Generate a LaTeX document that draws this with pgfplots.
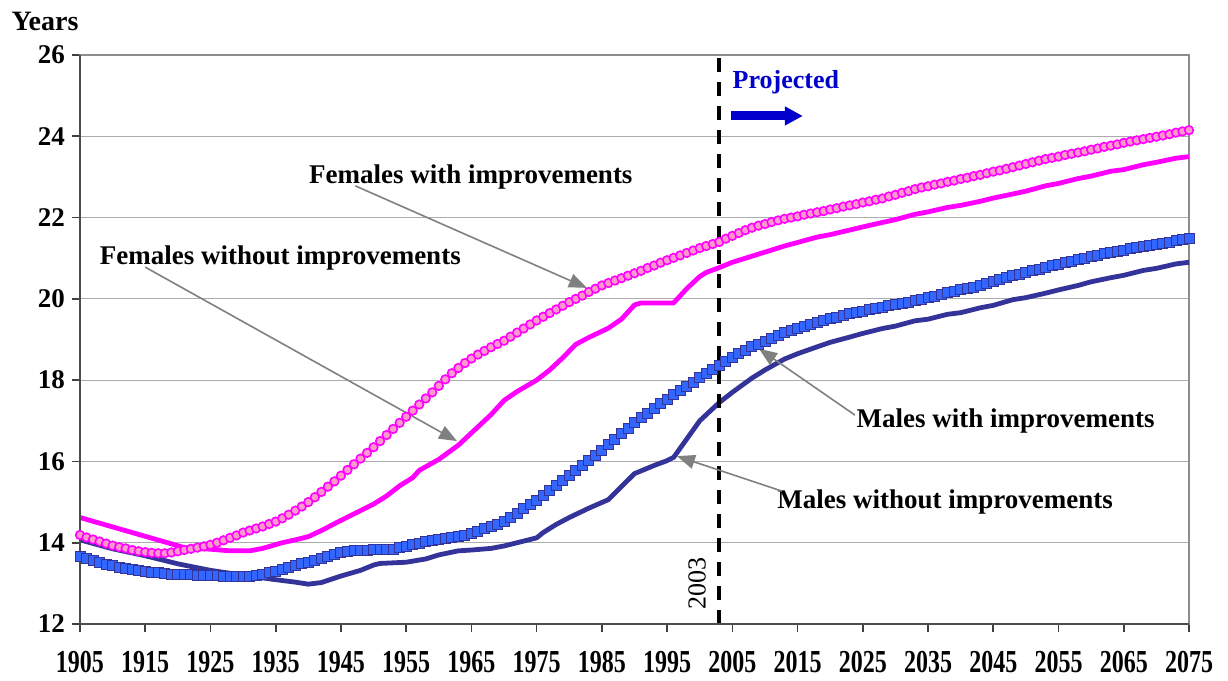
\documentclass[border=0pt]{standalone}
\usepackage{fontspec}
\setmainfont{Liberation Serif}
\usepackage{graphicx}
\usepackage{pgfplots}
\pgfplotsset{compat=1.18}
\usetikzlibrary{arrows.meta}
\definecolor{mag}{HTML}{FF00FF}
\definecolor{pinkfill}{HTML}{FF99CC}
\definecolor{navy}{HTML}{333399}
\definecolor{sqblue}{HTML}{3366FF}
\definecolor{projblue}{HTML}{0000CC}
\definecolor{annot}{HTML}{808080}
\begin{document}
\begin{tikzpicture}
\begin{axis}[name=ax, scale only axis, width=554.5pt, height=284.5pt,
  xmin=1905, xmax=2075, ymin=12, ymax=26,
  xtick={1905,1915,...,2075}, ytick={12,14,...,26},
  tick pos=left, tick align=outside, major tick length=4pt,
  ymajorgrids, grid style={draw=gray!65, line width=0.6pt},
  axis line style={draw=gray!90, line width=0.9pt},
  tick style={draw=black!75, line width=0.8pt},
  /pgf/number format/assume math mode=true,
  xticklabel={\scalebox{0.75}[1]{\pgfmathprintnumber[1000 sep={},assume math mode=true]{\tick}}},
  xticklabel style={font=\fontsize{16}{16}\selectfont\bfseries, yshift=-6pt},
  yticklabel style={font=\fontsize{13.5}{14}\selectfont\bfseries},
  clip=false]

% Females without improvements
\addplot[mag, line width=2.4pt, line join=round] coordinates {
(1905,14.62)(1921,13.88)(1925,13.84)(1928,13.80)(1931,13.80)(1933,13.86)(1936,14.00)(1938,14.07)(1940,14.15)(1942,14.30)(1945,14.55)(1950,14.95)(1952,15.15)(1954,15.40)(1956,15.60)(1957,15.78)(1960,16.05)(1963,16.40)(1965,16.70)(1968,17.15)(1970,17.50)(1972,17.72)(1975,18.00)(1977,18.25)(1979,18.55)(1981,18.88)(1983,19.05)(1986,19.28)(1988,19.50)(1990,19.85)(1991,19.90)(1996,19.90)(1998,20.25)(2000,20.55)(2001,20.65)(2003,20.77)(2005,20.90)(2008,21.05)(2010,21.15)(2013,21.30)(2018,21.52)(2020,21.58)(2025,21.77)(2028,21.88)(2030,21.95)(2033,22.08)(2035,22.14)(2038,22.25)(2040,22.30)(2043,22.40)(2045,22.48)(2048,22.58)(2050,22.65)(2053,22.78)(2055,22.84)(2058,22.96)(2060,23.02)(2063,23.14)(2065,23.18)(2068,23.30)(2070,23.36)(2073,23.46)(2075,23.50)};

% Males without improvements
\addplot[navy, line width=2.4pt, line join=round] coordinates {
(1905,14.07)(1910,13.85)(1915,13.68)(1920,13.48)(1925,13.32)(1930,13.20)(1935,13.09)(1938,13.03)(1940,12.98)(1942,13.02)(1945,13.18)(1948,13.32)(1950,13.45)(1951,13.49)(1955,13.52)(1958,13.60)(1960,13.70)(1963,13.80)(1965,13.82)(1968,13.86)(1970,13.92)(1972,14.00)(1975,14.12)(1976,14.25)(1978,14.45)(1980,14.62)(1983,14.85)(1985,14.99)(1986,15.06)(1988,15.38)(1990,15.70)(1993,15.90)(1995,16.02)(1996,16.10)(1998,16.55)(2000,17.00)(2002,17.30)(2003,17.45)(2005,17.70)(2008,18.05)(2010,18.25)(2013,18.52)(2015,18.65)(2018,18.82)(2020,18.93)(2023,19.06)(2025,19.15)(2028,19.27)(2030,19.33)(2033,19.46)(2035,19.50)(2038,19.62)(2040,19.66)(2043,19.78)(2045,19.84)(2048,19.98)(2050,20.03)(2053,20.14)(2055,20.22)(2058,20.33)(2060,20.42)(2063,20.52)(2065,20.58)(2068,20.70)(2070,20.75)(2073,20.86)(2075,20.90)};

% Males with improvements
\addplot[only marks, mark=square*, mark size=2.5pt, mark options={fill=sqblue, draw=navy, line width=0.45pt}] coordinates {
(1905,13.66)(1906,13.61)(1907,13.56)(1908,13.51)(1909,13.47)(1910,13.43)(1911,13.40)(1912,13.37)(1913,13.34)(1914,13.31)
(1915,13.29)(1916,13.27)(1917,13.26)(1918,13.24)(1919,13.23)(1920,13.22)(1921,13.21)(1922,13.21)(1923,13.20)(1924,13.20)
(1925,13.20)(1926,13.19)(1927,13.18)(1928,13.17)(1929,13.16)(1930,13.17)(1931,13.18)(1932,13.19)(1933,13.22)(1934,13.26)
(1935,13.30)(1936,13.34)(1937,13.39)(1938,13.43)(1939,13.48)(1940,13.52)(1941,13.57)(1942,13.62)(1943,13.67)(1944,13.72)
(1945,13.76)(1946,13.78)(1947,13.80)(1948,13.82)(1949,13.82)(1950,13.83)(1951,13.83)(1952,13.84)(1953,13.84)(1954,13.88)
(1955,13.91)(1956,13.95)(1957,13.98)(1958,14.02)(1959,14.05)(1960,14.07)(1961,14.10)(1962,14.12)(1963,14.15)(1964,14.18)
(1965,14.22)(1966,14.28)(1967,14.34)(1968,14.40)(1969,14.46)(1970,14.53)(1971,14.63)(1972,14.73)(1973,14.84)(1974,14.94)
(1975,15.05)(1976,15.17)(1977,15.29)(1978,15.41)(1979,15.53)(1980,15.65)(1981,15.78)(1982,15.90)(1983,16.03)(1984,16.15)
(1985,16.28)(1986,16.42)(1987,16.55)(1988,16.69)(1989,16.82)(1990,16.95)(1991,17.07)(1992,17.19)(1993,17.30)(1994,17.42)
(1995,17.53)(1996,17.64)(1997,17.74)(1998,17.85)(1999,17.95)(2000,18.06)(2001,18.16)(2002,18.27)(2003,18.37)(2004,18.47)
(2005,18.56)(2006,18.65)(2007,18.74)(2008,18.82)(2009,18.89)(2010,18.96)(2011,19.03)(2012,19.10)(2013,19.17)(2014,19.22)
(2015,19.27)(2016,19.33)(2017,19.38)(2018,19.43)(2019,19.47)(2020,19.51)(2021,19.55)(2022,19.59)(2023,19.63)(2024,19.66)
(2025,19.70)(2026,19.73)(2027,19.77)(2028,19.80)(2029,19.83)(2030,19.86)(2031,19.89)(2032,19.92)(2033,19.95)(2034,19.99)
(2035,20.03)(2036,20.07)(2037,20.11)(2038,20.15)(2039,20.19)(2040,20.22)(2041,20.26)(2042,20.29)(2043,20.33)(2044,20.38)
(2045,20.43)(2046,20.48)(2047,20.52)(2048,20.57)(2049,20.61)(2050,20.65)(2051,20.69)(2052,20.73)(2053,20.77)(2054,20.81)
(2055,20.85)(2056,20.89)(2057,20.93)(2058,20.97)(2059,21.00)(2060,21.04)(2061,21.07)(2062,21.11)(2063,21.14)(2064,21.17)
(2065,21.20)(2066,21.23)(2067,21.26)(2068,21.29)(2069,21.32)(2070,21.35)(2071,21.37)(2072,21.40)(2073,21.43)(2074,21.45)
(2075,21.48)};

% Females with improvements
\addplot[only marks, mark=*, mark size=2.15pt, mark options={fill=pinkfill, draw=mag, line width=0.8pt}] coordinates {
(1905,14.19)(1906,14.13)(1907,14.08)(1908,14.03)(1909,13.98)(1910,13.93)(1911,13.89)(1912,13.86)(1913,13.82)(1914,13.79)
(1915,13.77)(1916,13.75)(1917,13.74)(1918,13.74)(1919,13.76)(1920,13.79)(1921,13.82)(1922,13.85)(1923,13.88)(1924,13.91)
(1925,13.95)(1926,14.00)(1927,14.06)(1928,14.12)(1929,14.18)(1930,14.25)(1931,14.30)(1932,14.35)(1933,14.40)(1934,14.46)
(1935,14.52)(1936,14.60)(1937,14.69)(1938,14.79)(1939,14.89)(1940,15.00)(1941,15.12)(1942,15.25)(1943,15.38)(1944,15.51)
(1945,15.65)(1946,15.79)(1947,15.93)(1948,16.07)(1949,16.21)(1950,16.35)(1951,16.50)(1952,16.65)(1953,16.80)(1954,16.95)
(1955,17.10)(1956,17.25)(1957,17.40)(1958,17.55)(1959,17.70)(1960,17.86)(1961,18.02)(1962,18.17)(1963,18.30)(1964,18.42)
(1965,18.53)(1966,18.63)(1967,18.72)(1968,18.81)(1969,18.89)(1970,18.97)(1971,19.07)(1972,19.17)(1973,19.27)(1974,19.37)
(1975,19.47)(1976,19.56)(1977,19.65)(1978,19.74)(1979,19.83)(1980,19.92)(1981,20.00)(1982,20.08)(1983,20.17)(1984,20.25)
(1985,20.33)(1986,20.39)(1987,20.45)(1988,20.51)(1989,20.57)(1990,20.63)(1991,20.69)(1992,20.76)(1993,20.82)(1994,20.89)
(1995,20.95)(1996,21.01)(1997,21.07)(1998,21.13)(1999,21.19)(2000,21.25)(2001,21.30)(2002,21.35)(2003,21.40)(2004,21.48)
(2005,21.55)(2006,21.62)(2007,21.69)(2008,21.75)(2009,21.80)(2010,21.84)(2011,21.89)(2012,21.93)(2013,21.97)(2014,22.00)
(2015,22.03)(2016,22.07)(2017,22.10)(2018,22.13)(2019,22.16)(2020,22.20)(2021,22.23)(2022,22.27)(2023,22.30)(2024,22.33)
(2025,22.37)(2026,22.40)(2027,22.44)(2028,22.47)(2029,22.52)(2030,22.56)(2031,22.61)(2032,22.65)(2033,22.70)(2034,22.74)
(2035,22.77)(2036,22.81)(2037,22.84)(2038,22.88)(2039,22.91)(2040,22.95)(2041,22.98)(2042,23.02)(2043,23.05)(2044,23.09)
(2045,23.13)(2046,23.16)(2047,23.20)(2048,23.24)(2049,23.28)(2050,23.32)(2051,23.36)(2052,23.40)(2053,23.44)(2054,23.47)
(2055,23.50)(2056,23.54)(2057,23.57)(2058,23.60)(2059,23.63)(2060,23.67)(2061,23.70)(2062,23.74)(2063,23.77)(2064,23.80)
(2065,23.84)(2066,23.87)(2067,23.90)(2068,23.93)(2069,23.96)(2070,23.99)(2071,24.02)(2072,24.05)(2073,24.09)(2074,24.12)
(2075,24.15)};

% 2003 divider
\addplot[black, line width=2pt, dash pattern=on 7pt off 5pt] coordinates {(2003,12)(2003,26)};

% dark left & bottom axis lines
\draw[black!70, line width=1pt] (rel axis cs:0,1) -- (rel axis cs:0,0) -- (rel axis cs:1,0);

% annotations
\node[font=\fontsize{13}{14}\selectfont, rotate=90] at (axis cs:1999.6,13.0) {2003};
\node[font=\fontsize{13}{14}\selectfont\bfseries, text=projblue] at (axis cs:2013.2,25.32) {Projected};
\draw[projblue, line width=4.5pt, -{Triangle[length=9pt,width=9pt]}] (axis cs:2004.8,24.5) -- (axis cs:2015.8,24.5);

\tikzset{ann/.style={font=\fontsize{13.5}{14}\selectfont\bfseries}, annarrow/.style={annot, line width=0.8pt, -{Triangle[length=9pt,width=7pt]}}}
\node[ann] at (axis cs:1964.9,23.0) {Females with improvements};
\draw[annarrow] (axis cs:1947.2,22.78) -- (axis cs:1982.7,20.27);
\node[ann] at (axis cs:1935.7,21.0) {Females without improvements};
\draw[annarrow] (axis cs:1915.0,20.78) -- (axis cs:1962.8,16.50);
\node[ann] at (axis cs:2046.9,17.0) {Males with improvements};
\draw[annarrow] (axis cs:2023.8,17.14) -- (axis cs:2009.1,18.77);
\node[ann] at (axis cs:2037.6,15.0) {Males without improvements};
\draw[annarrow] (axis cs:2012.6,15.27) -- (axis cs:1996.5,16.13);
\end{axis}
\node[font=\fontsize{14}{14}\selectfont\bfseries] at ([xshift=-17.5pt,yshift=17pt]ax.north west) {Years};
\pgfresetboundingbox
\path ([xshift=-40pt,yshift=-28.5pt]ax.south west) rectangle ([xshift=19.5pt,yshift=27.5pt]ax.north east);
\end{tikzpicture}
\end{document}
